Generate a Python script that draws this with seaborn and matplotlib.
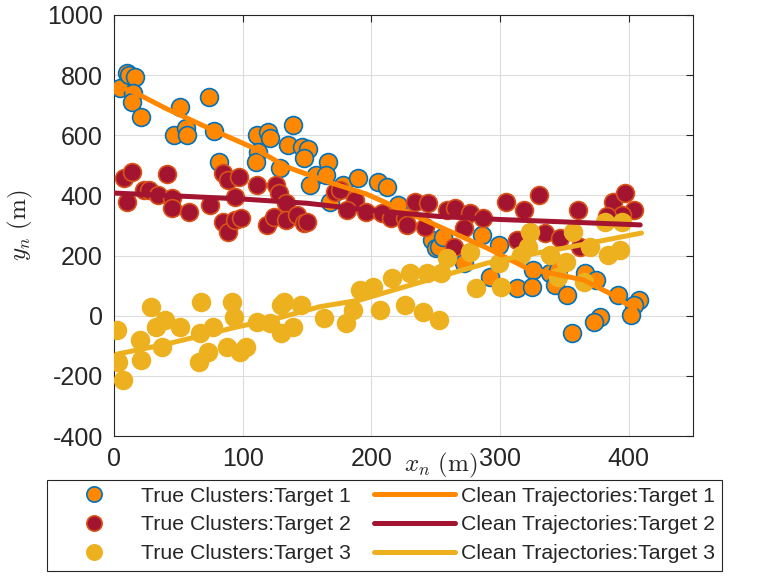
import matplotlib
matplotlib.use("Agg")
import numpy as np
import pandas as pd
import matplotlib.pyplot as plt
import seaborn as sns
from matplotlib.lines import Line2D

# ---- clusters (x_n, y_n en metros) ----
t1_x = [5, 10, 12, 16, 15, 14, 21, 51, 74, 47, 56, 57, 78, 82,
        111, 120, 121, 139, 135, 146, 151, 148, 112, 110, 129, 166, 157, 165, 152, 178, 168,
        190, 205, 212, 221, 247, 250, 253, 256,
        286, 299, 272, 292, 313, 326, 325, 339, 345, 343, 352, 366, 375, 392, 408, 404, 402, 378, 373, 356]
t1_y = [756, 806, 800, 793, 740, 712, 662, 695, 728, 601, 623, 601, 614, 512,
        601, 612, 590, 634, 567, 562, 554, 523, 545, 512, 490, 512, 468, 468, 435, 435, 379,
        457, 446, 429, 368, 252, 224, 230, 262,
        268, 235, 174, 130, 91, 152, 96, 141, 152, 102, 69, 141, 119, 69, 52, 36, 2, -3, -20, -59]

t2_x = [8, 14, 41, 10, 23, 27, 34, 45, 45, 58, 75, 85, 89, 97, 94, 111, 85, 89, 94, 99, 119, 124, 126, 128,
        134, 134, 142, 148, 150, 172, 176, 187, 181, 196, 208, 215, 226, 234, 244, 228, 242,
        259, 265, 277, 287, 272, 264, 305, 319, 330, 313, 335, 347, 361, 362, 388, 397, 404, 395, 383]
t2_y = [457, 479, 471, 379, 418, 418, 401, 390, 357, 344, 368, 474, 451, 460, 396, 435, 313, 279, 318, 324, 302, 329, 435, 407,
        374, 318, 335, 307, 313, 412, 418, 385, 352, 346, 341, 324, 324, 379, 374, 302, 296,
        352, 357, 341, 324, 291, 229, 379, 352, 401, 252, 274, 257, 352, 229, 379, 407, 352, 335, 330]

t3_x = [2, 3, 7, 20, 21, 29, 33, 40, 37, 51, 68, 67, 73, 66, 77, 92, 88, 98, 103, 93, 111, 121, 130, 130,
        132, 145, 139, 163, 180, 186, 191, 201, 207, 216, 226, 230, 240, 243, 254, 253,
        259, 277, 281, 299, 301, 323, 322, 316, 339, 351, 357, 370, 384, 393, 382, 395, 365, 345]
t3_y = [-48, -153, -214, -81, -147, 30, -37, -14, -103, -37, 47, -59, -120, -153, -37, 47, -103, -120, -103, -3, -20, -25, 36, -59,
        47, 36, -37, -9, -25, 19, 85, 96, 19, 124, 36, 141, 13, 141, 141, -14,
        191, 213, 91, 174, 96, 280, 229, 202, 202, 180, 280, 229, 202, 218, 313, 313, 113, 130]

# ---- trayectorias limpias ----
tr1_x = [8, 15, 40, 77, 110, 134, 170, 196, 225, 253, 290, 321, 365, 385, 398, 405]
tr1_y = [755, 745, 690, 617, 555, 495, 440, 405, 350, 296, 225, 158, 119, 75, 40, 25]
tr2_x = [0, 50, 100, 150, 200, 253, 300, 350, 409]
tr2_y = [408, 398, 388, 374, 350, 330, 320, 312, 302]
tr3_x = [2, 40, 93, 130, 160, 191, 225, 253, 290, 313, 350, 380, 410]
tr3_y = [-128, -95, -40, -5, 30, 52, 95, 130, 175, 196, 225, 250, 275]

labels_c = ['True Clusters:Target 1', 'True Clusters:Target 2', 'True Clusters:Target 3']
labels_t = ['Clean Trajectories:Target 1', 'Clean Trajectories:Target 2', 'Clean Trajectories:Target 3']

fill_c = ['#FF8800', '#A2142F', '#EDB120']
edge_c = ['#0072BD', '#D95319', '#EDB120']
line_c = ['#FF8800', '#A2142F', '#EDB120']

sns.set_style('white')
plt.rcParams['font.family'] = ['Liberation Sans', 'DejaVu Sans']
plt.rcParams['mathtext.fontset'] = 'cm'
plt.rcParams['axes.unicode_minus'] = False

fig = plt.figure(figsize=(7.68, 5.76), dpi=100)
ax = fig.add_axes([0.1484, 0.243, 0.7539, 0.731])

clusters = [(t1_x, t1_y), (t2_x, t2_y), (t3_x, t3_y)]
for i, (cx, cy) in enumerate(clusters):
    df = pd.DataFrame({'x': cx, 'y': cy})
    sns.scatterplot(data=df, x='x', y='y', ax=ax, s=165, color=fill_c[i],
                    edgecolor=edge_c[i], linewidth=1.2, zorder=3, legend=False)

trajs = [(tr1_x, tr1_y), (tr2_x, tr2_y), (tr3_x, tr3_y)]
for i, (tx, ty) in enumerate(trajs):
    df = pd.DataFrame({'x': tx, 'y': ty})
    sns.lineplot(data=df, x='x', y='y', ax=ax, sort=False, color=line_c[i],
                 linewidth=3.6, zorder=4, legend=False)

ax.set_xlim(0, 450)
ax.set_ylim(-400, 1000)
ax.set_xticks([0, 100, 200, 300, 400])
ax.set_yticks(np.arange(-400, 1001, 200))
ax.grid(True, color='#dcdcdc', linewidth=0.8)
ax.set_axisbelow(True)
ax.tick_params(direction='in', length=5, width=0.8, labelsize=18, colors='#262626',
               top=True, right=True, pad=8)
for sp in ax.spines.values():
    sp.set_color('#262626')
    sp.set_linewidth(0.8)

ax.set_xlabel(r'$x_n\ \mathrm{(m)}$', fontsize=18)
ax.xaxis.set_label_coords(0.565, -0.069)
ax.xaxis.label.set_va('center')
ax.set_ylabel(r'$y_n\ \mathrm{(m)}$', fontsize=18)
ax.yaxis.set_label_coords(-0.162, 0.5)
ax.yaxis.label.set_va('center')

handles = []
for i in range(3):
    handles.append(Line2D([], [], linestyle='none', marker='o', markersize=11,
                          markerfacecolor=fill_c[i], markeredgecolor=edge_c[i], markeredgewidth=1.2))
for i in range(3):
    handles.append(Line2D([], [], color=line_c[i], linewidth=3.6))

# caja de la leyenda: x 47-722 px, y 481-570 px
leg = fig.legend(handles, labels_c + labels_t, ncol=2, loc='center', mode='expand',
                 bbox_to_anchor=(47 / 768, 5 / 576, 675 / 768, 92 / 576),
                 fontsize=15.3, frameon=True, fancybox=False, edgecolor='#262626',
                 framealpha=1, handlelength=3.8, handletextpad=0.3, columnspacing=0.9,
                 labelspacing=0.47, borderpad=0.33, borderaxespad=0)
leg.get_frame().set_linewidth(0.8)

fig.savefig('out.png', dpi=100)
